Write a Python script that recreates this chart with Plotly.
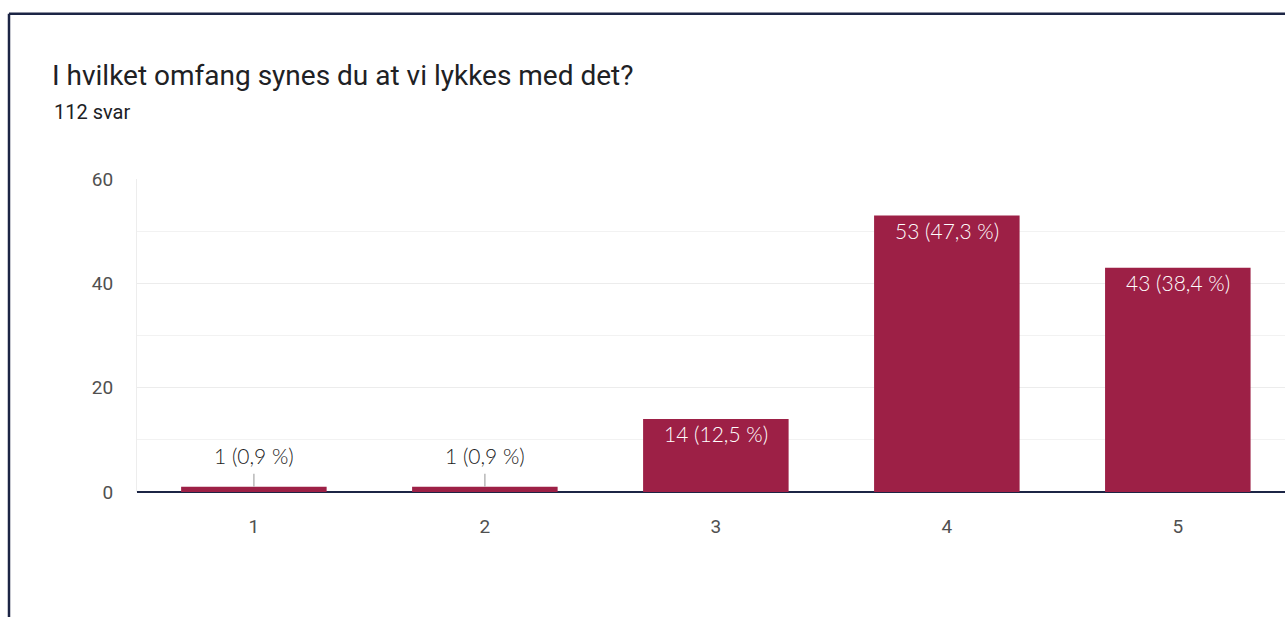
import plotly.graph_objects as go

# ---- data ----
categories = ["1", "2", "3", "4", "5"]
counts = [1, 1, 14, 53, 43]
percents = ["0,9", "0,9", "12,5", "47,3", "38,4"]
total_responses = 112
title_text = "I hvilket omfang synes du at vi lykkes med det?"
y_tickvals = [0, 20, 40, 60]

# ---- layout constants ----
W, H = 1285, 617
ML, MR, MT, MB = 137, 0, 178.5, 125
PW, PH = W - ML - MR, H - MT - MB
BAR_COLOR = "#9d2046"
NAVY = "#1c2545"


def px_x(px):
    return (px - ML) / PW


def px_y(py):
    return (H - MB - py) / PH


fig = go.Figure()
fig.add_trace(go.Bar(
    x=categories, y=counts, marker=dict(color=BAR_COLOR, line=dict(width=0)),
    hoverinfo="skip", showlegend=False,
))

annotations = []
for i, (v, p) in enumerate(zip(counts, percents)):
    label = f"{v} ({p} %)"
    if v >= 5:
        annotations.append(dict(
            x=i, y=v, xref="x", yref="y", text=label, showarrow=False,
            yanchor="top", yshift=0,
            font=dict(family="Lato", size=21, weight=300, color="white"),
        ))
    else:
        annotations.append(dict(
            x=i, y=v, xref="x", yref="y", text=label, showarrow=True,
            ax=0, ay=-31, arrowhead=0, arrowwidth=1.5, arrowcolor="#b8b8b8",
            startstandoff=4, standoff=0,
            font=dict(family="Lato", size=21, weight=300, color="#222222"),
        ))

annotations.append(dict(
    x=px_x(52), y=px_y(111), xref="paper", yref="paper",
    xanchor="left", yanchor="middle", showarrow=False,
    text=f"{total_responses} svar",
    font=dict(family="Roboto", size=20, color="#202124"),
))

fig.update_layout(
    width=W, height=H,
    margin=dict(l=ML, r=MR, t=MT, b=MB, pad=0),
    paper_bgcolor="white", plot_bgcolor="white",
    bargap=0.37,
    title=dict(
        text=title_text, xref="container", yref="container",
        x=52 / W, y=1 - 75 / H, xanchor="left", yanchor="middle",
        font=dict(family="Roboto", size=28, color="#202124"),
    ),
    xaxis=dict(
        type="category", range=[-0.506, 4.464],
        showgrid=False, zeroline=False, showline=False,
        ticks="outside", ticklen=17, tickcolor="rgba(0,0,0,0)",
        tickfont=dict(family="Roboto", size=19, color="#505050"),
        fixedrange=True,
    ),
    yaxis=dict(
        range=[0, 60], tickvals=y_tickvals,
        showgrid=True, gridcolor="#ececec", gridwidth=1,
        minor=dict(dtick=10, showgrid=True, gridcolor="#f2f2f2", gridwidth=1),
        zeroline=True, zerolinecolor=NAVY, zerolinewidth=2.5,
        showline=True, linecolor="#ededed", linewidth=1,
        ticks="outside", ticklen=19, tickcolor="rgba(0,0,0,0)",
        tickfont=dict(family="Roboto", size=19, color="#505050"),
        fixedrange=True,
    ),
    annotations=annotations,
    shapes=[
        dict(type="line", xref="paper", yref="paper",
             x0=px_x(9), x1=px_x(W + 5), y0=px_y(13), y1=px_y(13),
             line=dict(color=NAVY, width=2.5)),
        dict(type="line", xref="paper", yref="paper",
             x0=px_x(9), x1=px_x(9), y0=px_y(13), y1=px_y(H + 5),
             line=dict(color=NAVY, width=2.5)),
    ],
)

fig.write_html(
    "out.html",
    config={"displayModeBar": False, "staticPlot": True},
    post_script="document.body.style.margin='0';",
)
